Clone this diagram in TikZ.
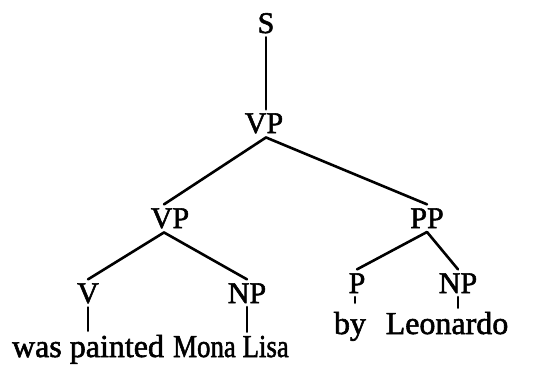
\documentclass[tikz,border=0pt]{standalone}
\usepackage{fontspec}
\setmainfont{Liberation Serif}[FakeBold=1.8]
\begin{document}
\begin{tikzpicture}[x=1pt,y=-1pt,
  cat/.style={inner sep=0pt,outer sep=4pt,anchor=base,font=\fontsize{30}{30}\selectfont},
  word/.style={inner sep=0pt,outer sep=4pt,anchor=base,font=\fontsize{32}{32}\selectfont},
  branch/.style={line width=2.6pt,line cap=round}]
\useasboundingbox (0,0) rectangle (543,365);
% category labels
\node[cat] (s)   at (266,33)  {S};
\node[cat] (vpa) at (264,133) {VP};
\node[cat] (vpb) at (170,228) {VP};
\node[cat] (pp)  at (427,228) {PP};
\node[cat] (v)   at (88,303)  {V};
\node[cat] (npa) at (247,303) {NP};
\node[cat] (p)   at (357,293) {P};
\node[cat] (npb) at (458,293) {NP};
% words
\node[word] (w1) at (88,357)  {was painted};
\node[word] (w2) at (231,357) {\scalebox{0.84}[1]{Mona Lisa}};
\node[word] (w3) at (350,334) {by};
\node[word] (w4) at (447,334) {Leonardo};
% branches
\draw[branch] (s.south) -- ([xshift=2pt]vpa.north);
\draw[branch] ([xshift=2pt]vpa.south) -- ([xshift=-6pt]vpb.north);
\draw[branch] ([xshift=2pt]vpa.south) -- (pp.north);
\draw[branch] ([xshift=-6pt]vpb.south) -- (v.north);
\draw[branch] ([xshift=-6pt]vpb.south) -- (npa.north);
\draw[branch] (pp.south) -- (p.north);
\draw[branch] (pp.south) -- (npb.north);
\draw[branch] (v.south) -- (v.south |- w1.north);
\draw[branch] (npa.south) -- (npa.south |- w2.north);
\draw[branch,shorten >=5pt] ([xshift=-2pt]p.south) -- ([xshift=-2pt]p.south |- w3.north);
\draw[branch] (npb.south) -- (npb.south |- w4.north);
\end{tikzpicture}
\end{document}
